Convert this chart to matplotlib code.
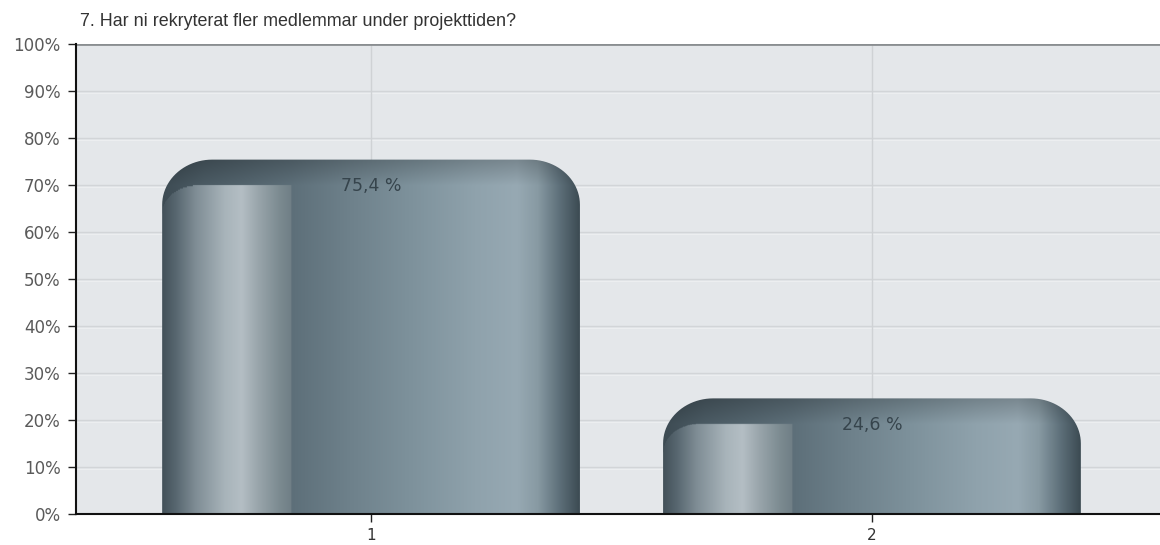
import matplotlib
matplotlib.use('Agg')
import matplotlib.pyplot as plt
import numpy as np
from matplotlib.path import Path
from matplotlib.patches import PathPatch
from matplotlib.colors import to_rgb

# Data
categories = ['1', '2']
values = [75.4, 24.6]
value_labels = ['75,4 %', '24,6 %']
title = '7. Har ni rekryterat fler medlemmar under projekttiden?'
yticks = list(range(0, 101, 10))
ytick_labels = [f'{t}%' for t in yticks]

plt.rcParams['font.family'] = ['Liberation Sans', 'DejaVu Sans']

# colour stops across a bar (relative position, colour)
inner_stops = [(0.00, '#435159'), (0.03, '#56656e'), (0.08, '#7f8d95'), (0.15, '#a8b4ba'),
               (0.19, '#b4bec4'), (0.23, '#99a5ab'), (0.28, '#7c8b91'), (0.31, '#6f7e85')]
outer_stops = [(0.00, '#3d4b53'), (0.10, '#4b5b64'), (0.31, '#5d6f79'), (0.45, '#6e818b'),
               (0.60, '#7e929c'), (0.75, '#8fa2ac'), (0.85, '#97a9b3'), (0.90, '#889aa3'),
               (0.95, '#5f717b'), (1.00, '#3c4b53')]


def profile(stops, u):
    pos = np.array([s[0] for s in stops])
    cols = np.array([to_rgb(s[1]) for s in stops])
    return np.stack([np.interp(u, pos, cols[:, k]) for k in range(3)], axis=-1)


def rounded_top_path(x0, x1, top, rx, ry, n=24):
    t = np.linspace(np.pi, np.pi / 2, n)
    left = np.column_stack([x0 + rx + rx * np.cos(t), top - ry + ry * np.sin(t)])
    t = np.linspace(np.pi / 2, 0, n)
    right = np.column_stack([x1 - rx + rx * np.cos(t), top - ry + ry * np.sin(t)])
    verts = np.vstack([[x0, 0], left, right, [x1, 0], [x0, 0]])
    codes = [Path.MOVETO] + [Path.LINETO] * (len(verts) - 2) + [Path.CLOSEPOLY]
    return Path(verts, codes)


fig = plt.figure(figsize=(11.6, 5.45), dpi=100)
ax = fig.add_axes([76 / 1160, 31 / 545, 1 - 76 / 1160, (514 - 44) / 545])
ax.set_facecolor('#e4e7ea')
ax.set_xlim(0.411, 2.575)
ax.set_ylim(0, 100)

# grid
for t in yticks[1:-1]:
    ax.axhline(t, color='#d2d5d8', lw=1.0, zorder=1)
    ax.axhline(t - 0.35, color='#eceef0', lw=0.8, zorder=1)
xpos = np.arange(1, len(categories) + 1)
for x in xpos:
    ax.axvline(x, color='#cfd2d5', lw=1.0, zorder=1)
ax.axhline(100, color='#8a8e91', lw=2.0, zorder=3)

bar_w = 0.834
rx, ry = 0.10, 9.6
drop = 5.5
inner_frac = 0.31
irx, iry = 0.07, 6.0

for x, v, lab in zip(xpos, values, value_labels):
    x0, x1 = x - bar_w / 2, x + bar_w / 2
    nx, ny = 420, 300
    xs = np.linspace(x0, x1, nx)
    ys = np.linspace(0, v, ny)
    X, Y = np.meshgrid(xs, ys)
    U = (X - x0) / bar_w
    img = profile(outer_stops, U)
    # darker rim near the top
    f = 0.80 + 0.20 * np.clip((v - Y) / drop, 0, 1)
    img = img * f[..., None]
    # front-left inner piece
    yi = v - drop
    inside = (U <= inner_frac) & (Y <= yi)
    corner = (X < x0 + irx) & (Y > yi - iry)
    ell = ((X - (x0 + irx)) / irx) ** 2 + ((Y - (yi - iry)) / iry) ** 2
    inside &= ~(corner & (ell > 1))
    inner = profile(inner_stops, U)
    img[inside] = inner[inside]
    img = np.clip(img, 0, 1)

    patch = PathPatch(rounded_top_path(x0, x1, v, rx, ry), facecolor='none', edgecolor='none')
    ax.add_patch(patch)
    im = ax.imshow(img, extent=(x0, x1, 0, v), origin='lower', aspect='auto',
                   interpolation='bilinear', zorder=2)
    im.set_clip_path(patch)
    ax.text(x, v - 5.6, lab, ha='center', va='center', fontsize=12.5, color='#36444c',
            family='DejaVu Sans', zorder=4)

ax.set_xlim(0.411, 2.575)
ax.set_ylim(0, 100)
ax.set_xticks(xpos)
ax.set_xticklabels(categories, fontsize=11, color='#333333', family='DejaVu Sans')
ax.set_yticks(yticks)
ax.set_yticklabels(ytick_labels, fontsize=12, color='#5a5a5a', family='DejaVu Sans')
ax.tick_params(axis='both', direction='out', length=6, width=1, color='#222222')
ax.tick_params(axis='x', pad=4)
ax.tick_params(axis='y', pad=5)
for side in ['top', 'right']:
    ax.spines[side].set_visible(False)
ax.spines['left'].set_color('#111111')
ax.spines['bottom'].set_color('#111111')
ax.spines['left'].set_linewidth(1.5)
ax.spines['bottom'].set_linewidth(1.5)
ax.spines['left'].set_zorder(5)
ax.spines['bottom'].set_zorder(5)

fig.text(80 / 1160, 1 - 21 / 545, title, fontsize=12.9, color='#333333', ha='left', va='center')

fig.savefig('out.png', dpi=100)
